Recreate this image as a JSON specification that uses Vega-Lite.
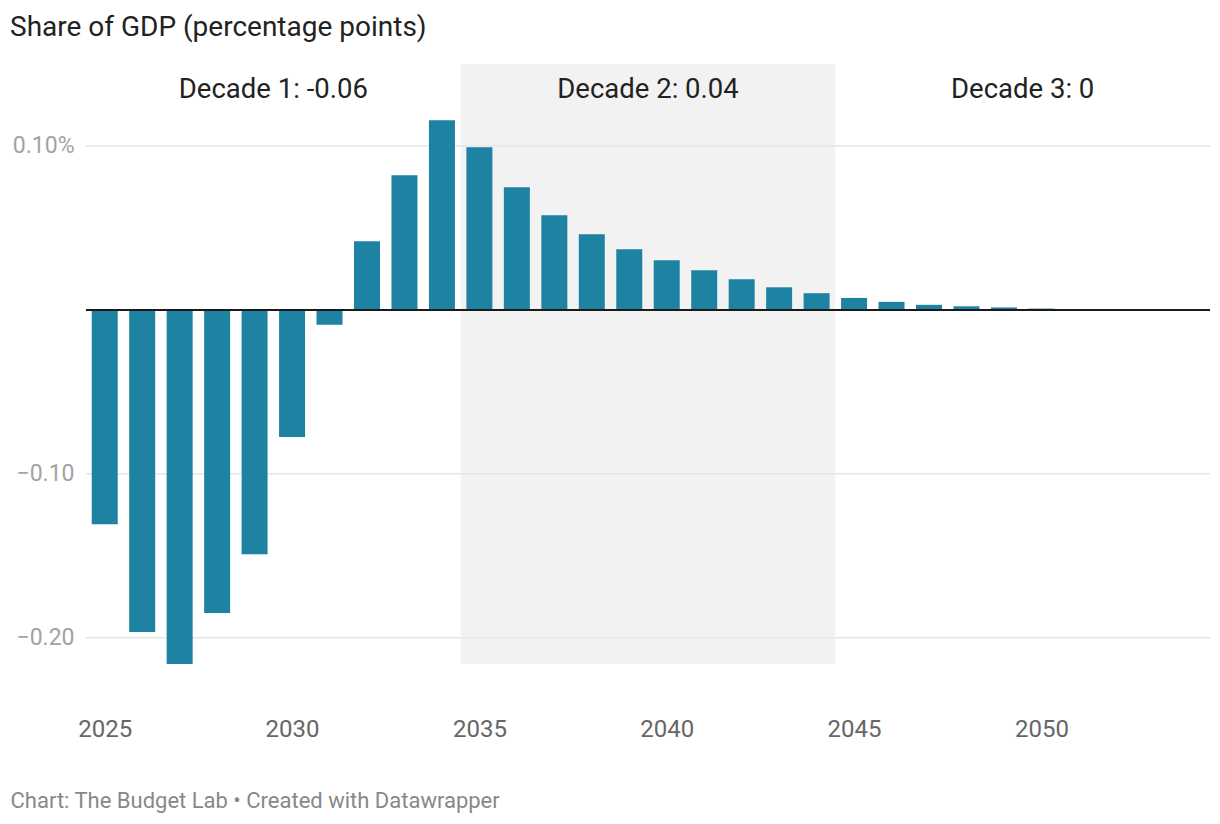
{
  "$schema": "https://vega.github.io/schema/vega-lite/v6.json",
  "width": 1124,
  "height": 600,
  "autosize": {"type": "none"},
  "padding": {"left": 86, "top": 64, "right": 10, "bottom": 160},
  "background": "white",
  "config": {"font": "Roboto", "view": {"stroke": null}},
  "title": {
    "text": "Share of GDP (percentage points)",
    "anchor": "start",
    "frame": "group",
    "dx": -76,
    "offset": 0,
    "baseline": "alphabetic",
    "fontSize": 28,
    "fontWeight": "normal",
    "color": "#222222"
  },
  "datasets": {
    "bars": [
      {"year": 2025, "value": -0.1307},
      {"year": 2026, "value": -0.1965},
      {"year": 2027, "value": -0.2160},
      {"year": 2028, "value": -0.1849},
      {"year": 2029, "value": -0.1490},
      {"year": 2030, "value": -0.0776},
      {"year": 2031, "value": -0.0090},
      {"year": 2032, "value": 0.0419},
      {"year": 2033, "value": 0.0821},
      {"year": 2034, "value": 0.1157},
      {"year": 2035, "value": 0.0992},
      {"year": 2036, "value": 0.0748},
      {"year": 2037, "value": 0.0577},
      {"year": 2038, "value": 0.0462},
      {"year": 2039, "value": 0.0370},
      {"year": 2040, "value": 0.0303},
      {"year": 2041, "value": 0.0242},
      {"year": 2042, "value": 0.0187},
      {"year": 2043, "value": 0.0138},
      {"year": 2044, "value": 0.0102},
      {"year": 2045, "value": 0.0073},
      {"year": 2046, "value": 0.0049},
      {"year": 2047, "value": 0.0031},
      {"year": 2048, "value": 0.0022},
      {"year": 2049, "value": 0.0015},
      {"year": 2050, "value": 0.0008},
      {"year": 2051, "value": 0.0},
      {"year": 2052, "value": 0.0},
      {"year": 2053, "value": 0.0},
      {"year": 2054, "value": 0.0}
    ],
    "shade": [{"start": 2034.5, "end": 2044.5}],
    "grid": [{"v": -0.2}, {"v": -0.1}, {"v": 0.1}],
    "decades": [
      {"mid": 2029.5, "label": "Decade 1: -0.06"},
      {"mid": 2039.5, "label": "Decade 2: 0.04"},
      {"mid": 2049.5, "label": "Decade 3: 0"}
    ]
  },
  "layer": [
    {
      "data": {"name": "shade"},
      "mark": {"type": "rect", "color": "#f2f2f2"},
      "encoding": {
        "x": {
          "field": "start",
          "type": "quantitative",
          "scale": {"domain": [2024.5, 2054.5], "nice": false, "zero": false, "padding": 0},
          "axis": {
            "values": [2025, 2030, 2035, 2040, 2045, 2050],
            "format": "d",
            "grid": false,
            "domain": false,
            "ticks": false,
            "labelFontSize": 24,
            "labelColor": "#666666",
            "labelBaseline": "alphabetic",
            "labelPadding": 72,
            "title": "Chart: The Budget Lab • Created with Datawrapper",
            "titleX": -76,
            "titleY": 143,
            "titleAlign": "left",
            "titleAnchor": "start",
            "titleBaseline": "alphabetic",
            "titleFontSize": 22,
            "titleFontWeight": "normal",
            "titleColor": "#888888"
          }
        },
        "x2": {"field": "end"}
      }
    },
    {
      "data": {"name": "grid"},
      "mark": {"type": "rule", "color": "#e5e5e5", "strokeWidth": 1.5},
      "encoding": {
        "y": {
          "field": "v",
          "type": "quantitative",
          "scale": {"domain": [-0.216, 0.15], "nice": false, "zero": false},
          "axis": {
            "values": [-0.2, -0.1, 0, 0.1],
            "labelExpr": "datum.value > 0.05 ? '0.10%' : datum.value < -0.15 ? '−0.20' : datum.value < -0.05 ? '−0.10' : ''",
            "grid": false,
            "domain": false,
            "ticks": false,
            "labelFontSize": 23,
            "labelColor": "#a3a3a3",
            "labelPadding": 12,
            "title": null
          }
        }
      }
    },
    {
      "data": {"name": "bars"},
      "mark": {"type": "bar", "size": 26, "color": "#1e82a3"},
      "encoding": {
        "x": {"field": "year", "type": "quantitative"},
        "y": {"field": "value", "type": "quantitative"}
      }
    },
    {
      "data": {"values": [{}]},
      "mark": {"type": "rule", "color": "#1a1a1a", "strokeWidth": 2},
      "encoding": {"y": {"datum": 0}}
    },
    {
      "data": {"name": "decades"},
      "mark": {"type": "text", "fontSize": 27.5, "color": "#222222", "baseline": "middle", "align": "center", "dy": 1},
      "encoding": {
        "x": {"field": "mid", "type": "quantitative"},
        "y": {"datum": 0.1349},
        "text": {"field": "label"}
      }
    }
  ]
}
